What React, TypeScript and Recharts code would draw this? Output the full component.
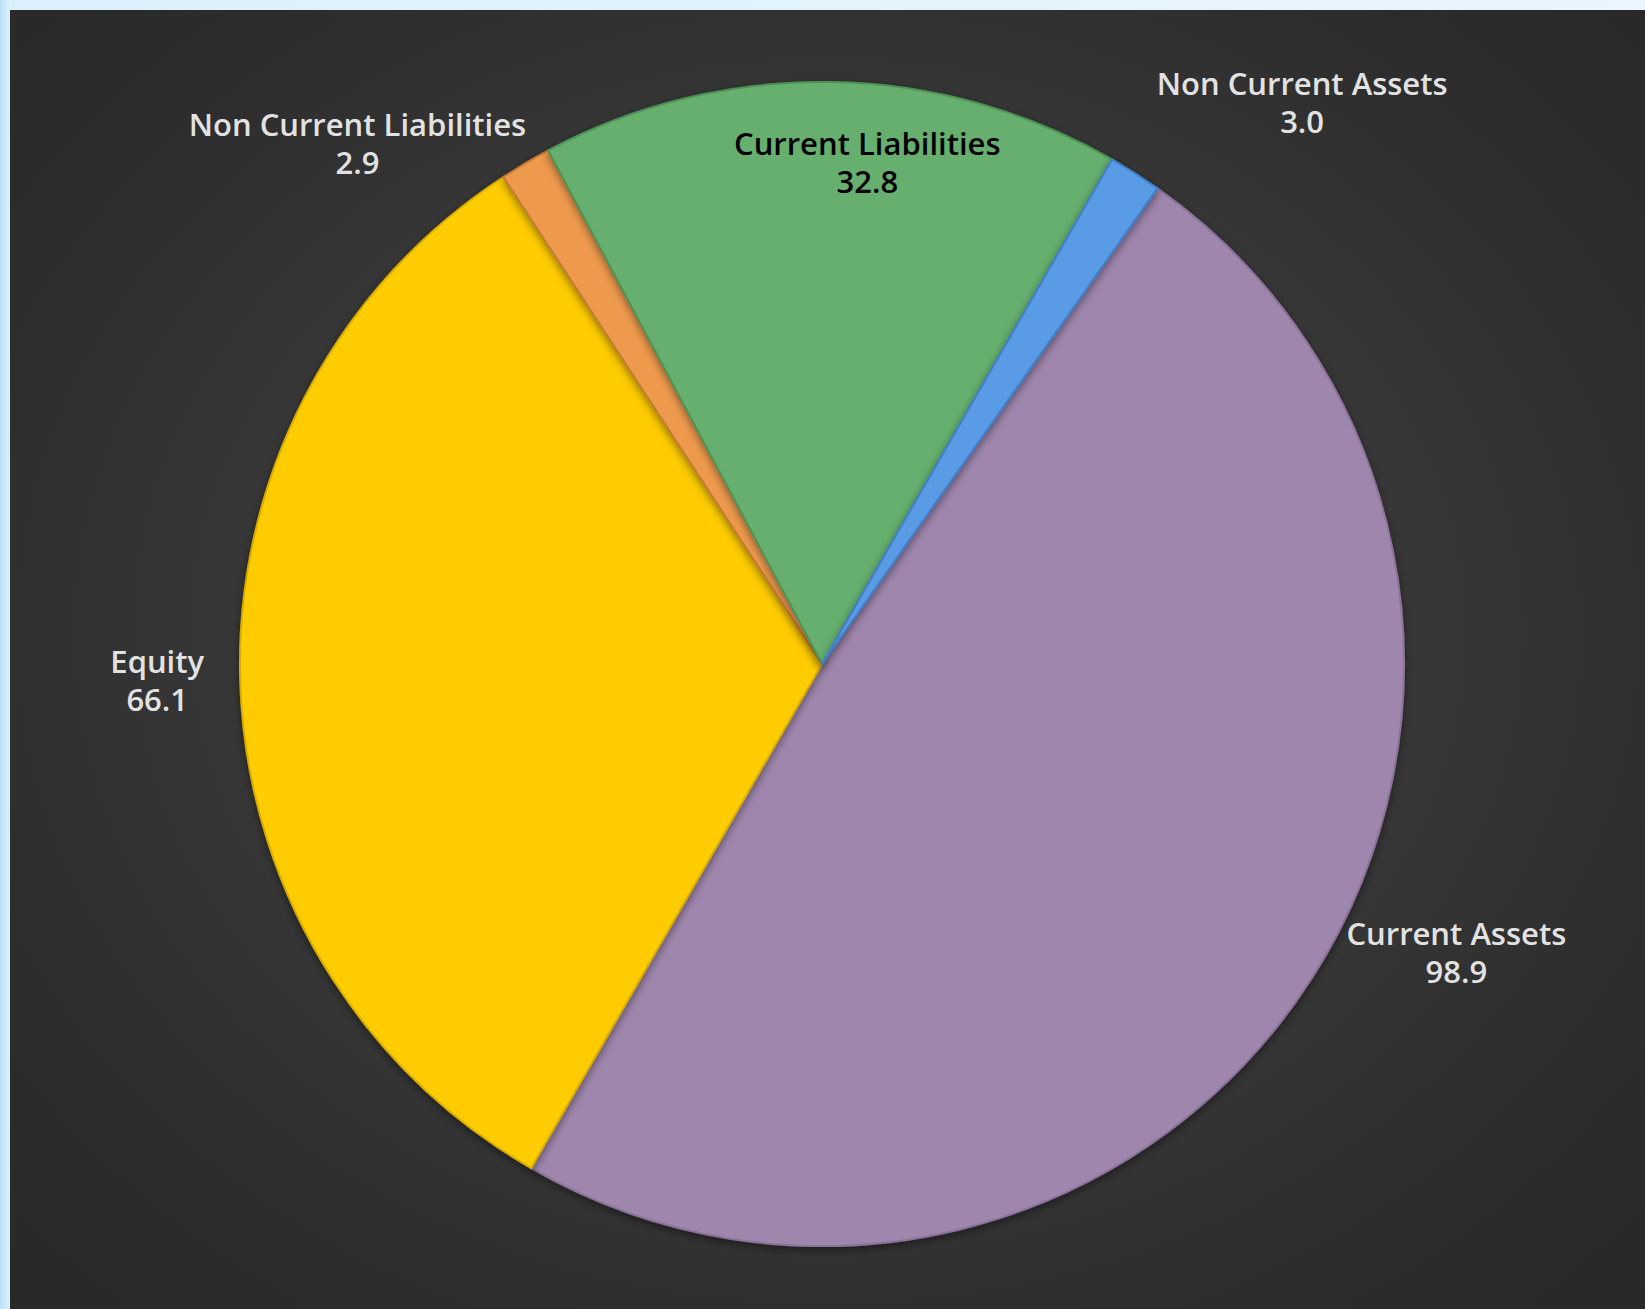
import React from 'react';
import { PieChart, Pie, Cell } from 'recharts';

// balance sheet split (clockwise from Current Assets)
const categories = ['Current Assets', 'Equity', 'Non Current Liabilities', 'Current Liabilities', 'Non Current Assets'];
const values = [98.9, 66.1, 2.9, 32.8, 3.0];
const colors = ['#9F86AD', '#FFCC00', '#EE9A4D', '#66AF6E', '#5A9BE6'];
const edgeColors = ['#8A7399', '#D9AD00', '#C47A35', '#4E9356', '#3F7FCB'];
const labelColors = ['#E2E2E2', '#E2E2E2', '#E2E2E2', '#000000', '#E2E2E2'];
// label nudges from the slice's outer edge point
const labelOffsets = [
  [144, -25],
  [-83, 1],
  [-168, -19],
  [36, 81],
  [167, -70],
];

const data = categories.map((name, i) => ({ name, value: values[i] }));

const RAD = Math.PI / 180;

const renderLabel = (props: any) => {
  const { cx, cy, midAngle, outerRadius, index, name, value } = props;
  const x = cx + outerRadius * Math.cos(-midAngle * RAD) + labelOffsets[index][0];
  const y = cy + outerRadius * Math.sin(-midAngle * RAD) + labelOffsets[index][1];
  return (
    <text
      x={x}
      y={y}
      textAnchor="middle"
      fill={labelColors[index]}
      fontFamily="'Open Sans', sans-serif"
      fontWeight={600}
      fontSize={31}
      stroke="none"
    >
      <tspan x={x} dy={-8}>{name}</tspan>
      <tspan x={x} dy={38}>{value.toFixed(1)}</tspan>
    </text>
  );
};

export default function App() {
  return (
    <div
      style={{
        position: 'absolute',
        left: 0,
        top: 0,
        width: 1645,
        height: 1309,
        overflow: 'hidden',
        background: 'linear-gradient(90deg, #b8e0f5 0px, #dcf0fb 10px, #eaf5fc 100%)',
      }}
    >
      <div
        style={{
          position: 'absolute',
          left: 10,
          top: 10,
          width: 1635,
          height: 1299,
          background: 'radial-gradient(ellipse at 50% 48%, #434343 0%, #3b3b3b 40%, #2c2c2c 80%, #282828 100%)',
        }}
      >
        <PieChart width={1635} height={1299}>
          <defs>
            <filter id="pieShadow" x="-10%" y="-10%" width="120%" height="120%">
              <feDropShadow dx="0" dy="3" stdDeviation="4" floodColor="#000" floodOpacity="0.45" />
            </filter>
          </defs>
          <Pie
            data={data}
            dataKey="value"
            nameKey="name"
            cx={807}
            cy={649}
            outerRadius={582}
            startAngle={54.8}
            endAngle={-305.2}
            label={renderLabel}
            labelLine={false}
            isAnimationActive={false}
            style={{ filter: 'url(#pieShadow)' }}
          >
            {data.map((d, i) => (
              <Cell key={d.name} fill={colors[i]} stroke={edgeColors[i]} strokeWidth={2} />
            ))}
          </Pie>
        </PieChart>
      </div>
    </div>
  );
}
